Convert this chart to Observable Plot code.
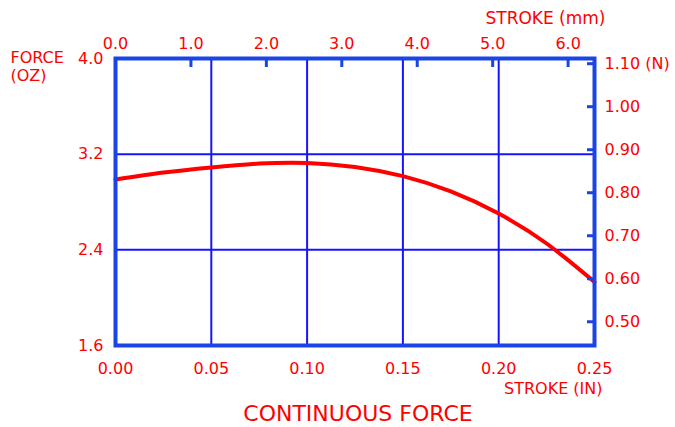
<!DOCTYPE html>
<html><head><meta charset="utf-8">
<script src="https://cdn.jsdelivr.net/npm/d3@7"></script>
<script src="https://cdn.jsdelivr.net/npm/@observablehq/plot@0.6"></script>
<style>
body{margin:0;background:#fff;}
#title{width:675px;height:27px;line-height:27px;text-align:center;padding-left:41px;box-sizing:border-box;font-family:"DejaVu Sans";font-size:22px;color:#ff0000;}
</style></head><body>
<div id="chart"></div>
<div id="title">CONTINUOUS FORCE</div>
<script>
// Data (stroke in inches, force in ounces)
const strokeIn = [0, 0.025, 0.05, 0.075, 0.10, 0.125, 0.15, 0.175, 0.20, 0.225, 0.25];
const forceOz = [2.988, 3.046, 3.089, 3.121, 3.127, 3.093, 3.016, 2.888, 2.703, 2.453, 2.131];
// Tick labels
const xTicksIn = [0, 0.05, 0.10, 0.15, 0.20, 0.25];
const yTicksOz = [1.6, 2.4, 3.2, 4.0];
const xTicksMm = [0, 1, 2, 3, 4, 5, 6];
const yTicksN = [0.5, 0.6, 0.7, 0.8, 0.9, 1.0, 1.1];
const OZ_PER_N = 1 / 0.278014;
const MM_PER_IN = 25.4;

const blue = "#1a44e6", grid = "#1414ff", red = "#ff0000";
const data = strokeIn.map((x, i) => ({x, y: forceOz[i]}));

const plot = Plot.plot({
  width: 675, height: 400,
  marginLeft: 115, marginRight: 81, marginTop: 58, marginBottom: 55,
  style: {fontFamily: "DejaVu Sans", fontSize: "16px", color: red, background: "#fff", overflow: "visible"},
  x: {domain: [0, 0.25]},
  y: {domain: [1.6, 4.0]},
  marks: [
    Plot.gridX(xTicksIn.slice(1, -1), {stroke: grid, strokeOpacity: 1, strokeWidth: 2}),
    Plot.gridY(yTicksOz.slice(1, -1), {stroke: grid, strokeOpacity: 1, strokeWidth: 2}),
    Plot.line(data, {x: "x", y: "y", curve: "natural", stroke: red, strokeWidth: 4}),
    Plot.frame({stroke: blue, strokeWidth: 4}),
    Plot.axisX(xTicksIn, {anchor: "bottom", tickSize: 0, tickPadding: 17, tickFormat: d => d.toFixed(2), label: null}),
    Plot.axisY(yTicksOz, {anchor: "left", tickSize: 0, tickPadding: 12, tickFormat: d => d.toFixed(1), label: null}),
    Plot.axisX(xTicksMm.map(m => m / MM_PER_IN), {anchor: "top", tickSize: 8, dy: 8, tickPadding: 10, stroke: blue, strokeWidth: 3,
      tickFormat: d => (d * MM_PER_IN).toFixed(1), label: null}),
    Plot.axisY(yTicksN.map(n => n * OZ_PER_N), {anchor: "right", tickSize: 8, dx: -8, tickPadding: 10, stroke: blue, strokeWidth: 3,
      tickFormat: d => { const n = d / OZ_PER_N; return n.toFixed(2) + (Math.abs(n - 1.1) < 1e-6 ? " (N)" : ""); }, label: null}),
    Plot.text(["FORCE\n(OZ)"], {frameAnchor: "top-left", textAnchor: "start", lineAnchor: "middle", lineHeight: 1.125, dx: -105, dy: 8, fill: red}),
    Plot.text(["STROKE (mm)"], {frameAnchor: "top-right", textAnchor: "end", lineAnchor: "middle", dx: 11, dy: -40, fill: red, fontSize: 17}),
    Plot.text(["STROKE (IN)"], {frameAnchor: "bottom-right", textAnchor: "end", lineAnchor: "middle", dx: 8, dy: 43, fill: red})
  ]
});
document.getElementById("chart").appendChild(plot);
</script>
</body></html>
